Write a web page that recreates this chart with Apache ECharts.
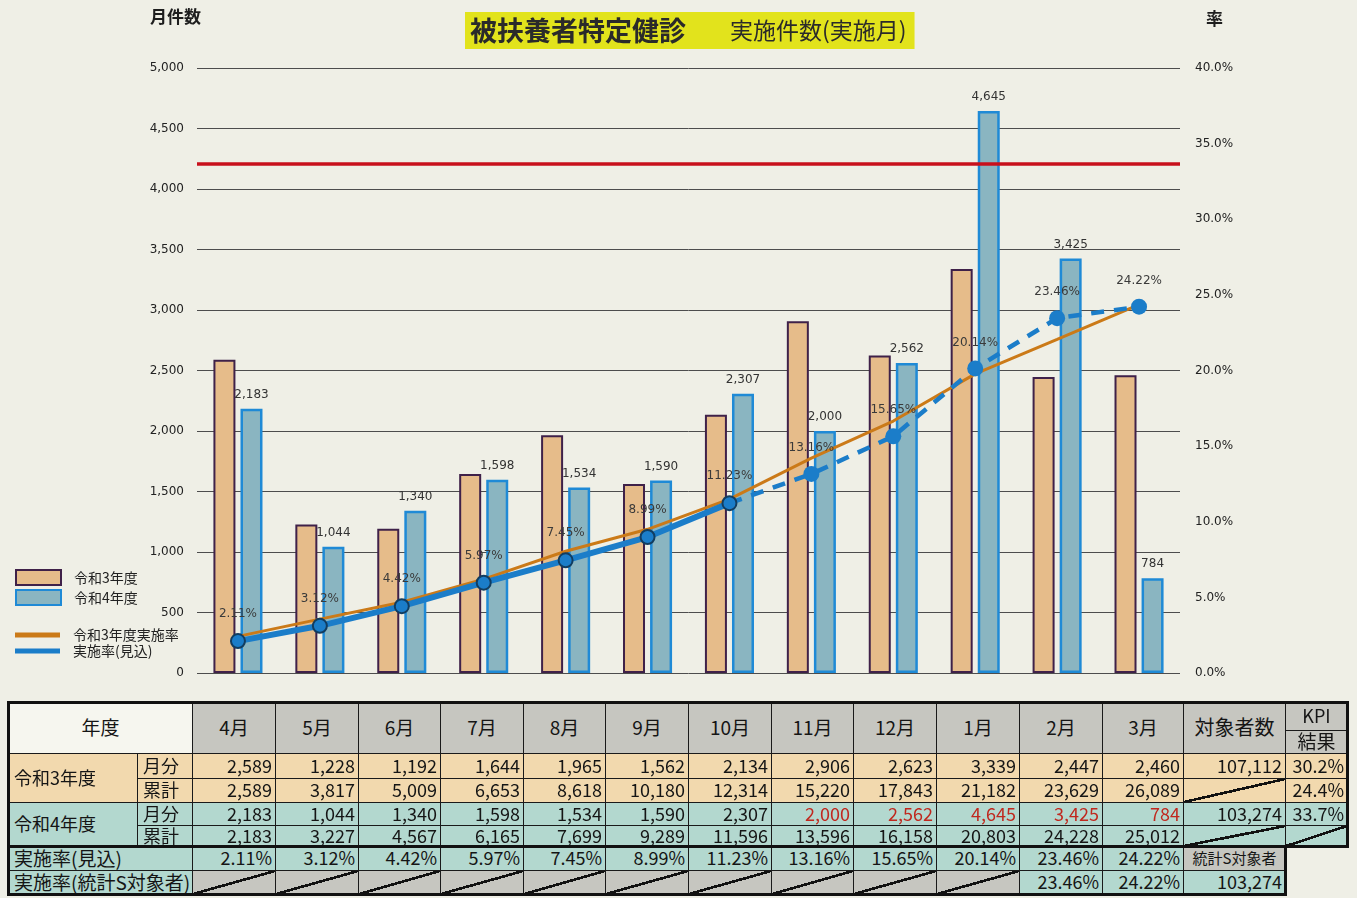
<!DOCTYPE html>
<html>
<head>
<meta charset="utf-8">
<script src="https://cdn.jsdelivr.net/npm/echarts/dist/echarts.min.js"></script>
<style>
  html, body { margin:0; padding:0; background:#efefe6; }
  #wrap { position:relative; width:1357px; height:898px; overflow:hidden; background:#efefe6; }
  #chart { position:absolute; left:0; top:0; width:1357px; height:898px; }
  #table { position:absolute; left:0; top:0; width:1357px; height:898px; pointer-events:none; }
  .cell { position:absolute; box-sizing:border-box; border:1px solid #1a1a1a; display:block;
          font-family:"Noto Sans CJK JP", sans-serif; color:#151515; white-space:nowrap; overflow:hidden; }
  .cell span { position:relative; top:-1px; }
  .frame { position:absolute; box-sizing:border-box; border:3px solid #111; }
</style>
</head>
<body>
<div id="wrap">
  <div id="chart"></div>
  <div id="table"></div>
</div>
<script>
// ---------------- data ----------------
const months = ['4月','5月','6月','7月','8月','9月','10月','11月','12月','1月','2月','3月'];
const r3Monthly    = [2589,1228,1192,1644,1965,1562,2134,2906,2623,3339,2447,2460];
const r3Cumulative = [2589,3817,5009,6653,8618,10180,12314,15220,17843,21182,23629,26089];
const r4Monthly    = [2183,1044,1340,1598,1534,1590,2307,2000,2562,4645,3425,784];
const r4Cumulative = [2183,3227,4567,6165,7699,9289,11596,13596,16158,20803,24228,25012];
// 実施率(見込) (%), solid part is months 4月-10月, dashed part from 10月 onwards
const rateForecast = [2.11,3.12,4.42,5.97,7.45,8.99,11.23,13.16,15.65,20.14,23.46,24.22];
// 令和3年度実施率 (%)
const r3Rate = [2.42,3.56,4.68,6.21,8.05,9.50,11.50,14.21,16.66,19.78,22.06,24.36];
// 実施率(統計S対象者) (%)
const rateStatS = [null,null,null,null,null,null,null,null,null,null,23.46,24.22];
const actualMonths = 7;            // 4月..10月 are actual, later months are estimates
const targetCounts = [107112, 103274];   // 対象者数 R3, R4
const statSTarget = 103274;
const kpiResults = ['30.2%','24.4%','33.7%'];
const kpiLine = 33.7;              // red KPI line (%)
const leftTicks = {min:0, max:5000, interval:500};
const rightTicks = {min:0, max:40, interval:5};

// ---------------- chart ----------------
const fmt = v => Number(v).toLocaleString('en-US');
const solidData = rateForecast.map((v,i) => i < actualMonths ? v : null);
const dashedData = rateForecast.map((v,i) => {
  if (i < actualMonths - 1) return null;
  if (i === actualMonths - 1) return {value:v, symbol:'none', label:{show:false}};
  return v;
});
const numFont = 'DejaVu Sans';
const chart = echarts.init(document.getElementById('chart'), null, {renderer:'canvas'});
chart.setOption({
  backgroundColor:'#efefe6',
  animation:false,
  textStyle:{fontFamily:'"Noto Sans CJK JP", sans-serif'},
  title:{
    text:'{a|被扶養者特定健診}{b|実施件数(実施月)}',
    left:465, top:11,
    backgroundColor:'#e2e31c',
    padding:[5,8,5,5],
    textStyle:{
      fontWeight:'normal',
      rich:{
        a:{fontSize:27, fontWeight:'bold', color:'#2a2a2a', fontFamily:'"Noto Sans CJK JP"', lineHeight:29},
        b:{fontSize:23, fontWeight:'normal', color:'#2a2a2a', fontFamily:'"Noto Sans CJK JP"', padding:[0,0,0,44], lineHeight:29}
      }
    }
  },
  graphic:[
    {type:'text', left:150, top:8, style:{text:'月件数', font:'bold 17px "Noto Sans CJK JP"', fill:'#1e1e1e'}},
    {type:'text', left:1206, top:10, style:{text:'率', font:'bold 17px "Noto Sans CJK JP"', fill:'#1e1e1e'}}
  ],
  legend:[
    {data:['令和3年度','令和4年度'], orient:'vertical', left:10, top:564, icon:'rect',
     itemWidth:45, itemHeight:15, itemGap:3,
     textStyle:{fontSize:14, color:'#222', padding:[0,0,0,8]}},
    {data:['令和3年度実施率','実施率(見込)'], orient:'vertical', left:10, top:623, icon:'rect',
     itemWidth:45, itemHeight:5, itemGap:2, itemStyle:{borderWidth:0},
     textStyle:{fontSize:14, color:'#222', padding:[0,0,0,8]}}
  ],
  grid:{left:197, right:177, top:68, bottom:225},
  xAxis:{type:'category', data:months, axisLine:{show:false}, axisTick:{show:false}, axisLabel:{show:false}},
  yAxis:[
    {type:'value', min:leftTicks.min, max:leftTicks.max, interval:leftTicks.interval,
     axisLine:{show:false}, axisTick:{show:false},
     axisLabel:{formatter:v=>fmt(v), fontSize:12, color:'#222', margin:13, fontFamily:numFont},
     splitLine:{lineStyle:{color:'#4d4d4d', width:1}}},
    {type:'value', position:'right', min:rightTicks.min, max:rightTicks.max, interval:rightTicks.interval,
     axisLine:{show:false}, axisTick:{show:false}, splitLine:{show:false},
     axisLabel:{formatter:v=>v.toFixed(1)+'%', fontSize:12, color:'#222', margin:15, fontFamily:numFont}}
  ],
  series:[
    {name:'令和3年度', type:'bar', data:r3Monthly, barWidth:22, barGap:'23%',
     itemStyle:{color:'#e6bc8a', borderColor:'#3f2149', borderWidth:2}, z:2},
    {name:'令和4年度', type:'bar', data:r4Monthly, barWidth:22,
     itemStyle:{color:'#8ab5c1', borderColor:'#1f8ad6', borderWidth:2.5}, z:2,
     label:{show:true, position:'top', distance:8, formatter:p=>fmt(p.value), fontSize:12, color:'#333', fontFamily:numFont}},
    {name:'令和3年度実施率', type:'line', yAxisIndex:1, data:r3Rate, symbol:'none',
     lineStyle:{color:'#cb7a18', width:3}, itemStyle:{color:'#cb7a18'}, z:4,
     markLine:{silent:true, symbol:'none', label:{show:false},
       lineStyle:{color:'#c8101c', width:3.5, type:'solid'}, data:[{yAxis:kpiLine}]}},
    {name:'実施率(見込)', type:'line', yAxisIndex:1, data:solidData, symbol:'circle', symbolSize:14,
     lineStyle:{color:'#1b7dc9', width:6}, itemStyle:{color:'#1b7dc9', borderColor:'#123d60', borderWidth:2}, z:5,
     label:{show:true, position:'top', distance:13, formatter:p=>p.value.toFixed(2)+'%', fontSize:12, color:'#3a3a3a', fontFamily:numFont}},
    {name:'実施率(見込)', type:'line', yAxisIndex:1, data:dashedData, symbol:'circle', symbolSize:16,
     lineStyle:{color:'#1b7dc9', width:4.5, type:[13,10]}, itemStyle:{color:'#1b7dc9'}, z:5,
     label:{show:true, position:'top', distance:12, formatter:p=>Number(p.value).toFixed(2)+'%', fontSize:12, color:'#3a3a3a', fontFamily:numFont}}
  ]
});

// ---------------- table ----------------
const cols = [8,137,192,275,358,440,523,605,688,771,853,936,1019,1102,1183,1285,1347];
const rows = [702,753,778,802,825,846,870,894];
const C = {orange:'#f2d9ae', teal:'#b3d8cf', gray:'#c6c6c0', white:'#f6f6ef'};
const tbl = document.getElementById('table');
function cell(x0,x1,y0,y1,text,o){
  o = o || {};
  const d = document.createElement('div');
  d.className = 'cell';
  const h = y1-y0+1;
  d.style.left = x0+'px'; d.style.top = y0+'px';
  d.style.width = (x1-x0+1)+'px'; d.style.height = h+'px';
  d.style.lineHeight = (h-2)+'px';
  let bg = o.bg || C.white;
  if (o.diag) {
    bg = 'linear-gradient(to bottom right, transparent calc(50% - 1.3px), #111 calc(50% - 1.3px), #111 calc(50% + 1.3px), transparent calc(50% + 1.3px)), ' + bg;
  }
  d.style.background = bg;
  d.style.fontSize = (o.size || 18)+'px';
  d.style.textAlign = o.align === 'left' ? 'left' : (o.align === 'center' ? 'center' : 'right');
  d.style.padding = o.align === 'left' ? '0 0 0 5px' : (o.align === 'center' ? '0' : '0 3px 0 0');
  if (o.color) d.style.color = o.color;
  const s = document.createElement('span');
  s.textContent = text || '';
  d.appendChild(s);
  tbl.appendChild(d);
}
function frame(x0,x1,y0,y1){
  const d = document.createElement('div');
  d.className = 'frame';
  d.style.left = (x0-1)+'px'; d.style.top = (y0-1)+'px';
  d.style.width = (x1-x0+3)+'px'; d.style.height = (y1-y0+3)+'px';
  tbl.appendChild(d);
}
// header
cell(cols[0],cols[2],rows[0],rows[1],'年度',{bg:C.white,align:'center',size:19});
months.forEach((m,i)=>cell(cols[2+i],cols[3+i],rows[0],rows[1],m,{bg:C.gray,align:'center',size:19}));
cell(cols[14],cols[15],rows[0],rows[1],'対象者数',{bg:C.gray,align:'center',size:20});
cell(cols[15],cols[16],rows[0],730,'KPI',{bg:C.gray,align:'center',size:18});
cell(cols[15],cols[16],730,rows[1],'結果',{bg:C.gray,align:'center',size:19});
// 令和3年度
cell(cols[0],cols[1],rows[1],rows[3],'令和3年度',{bg:C.orange,align:'left',size:18});
cell(cols[1],cols[2],rows[1],rows[2],'月分',{bg:C.orange,align:'left',size:18});
cell(cols[1],cols[2],rows[2],rows[3],'累計',{bg:C.orange,align:'left',size:18});
r3Monthly.forEach((v,i)=>cell(cols[2+i],cols[3+i],rows[1],rows[2],fmt(v),{bg:C.orange}));
r3Cumulative.forEach((v,i)=>cell(cols[2+i],cols[3+i],rows[2],rows[3],fmt(v),{bg:C.orange}));
cell(cols[14],cols[15],rows[1],rows[2],fmt(targetCounts[0]),{bg:C.orange});
cell(cols[14],cols[15],rows[2],rows[3],'',{bg:C.orange,diag:true});
cell(cols[15],cols[16],rows[1],rows[2],kpiResults[0],{bg:C.orange});
cell(cols[15],cols[16],rows[2],rows[3],kpiResults[1],{bg:C.orange});
// 令和4年度
cell(cols[0],cols[1],rows[3],rows[5],'令和4年度',{bg:C.teal,align:'left',size:18});
cell(cols[1],cols[2],rows[3],rows[4],'月分',{bg:C.teal,align:'left',size:18});
cell(cols[1],cols[2],rows[4],rows[5],'累計',{bg:C.teal,align:'left',size:18});
r4Monthly.forEach((v,i)=>cell(cols[2+i],cols[3+i],rows[3],rows[4],fmt(v),{bg:C.teal,color:i>=actualMonths?'#c0281e':null}));
r4Cumulative.forEach((v,i)=>cell(cols[2+i],cols[3+i],rows[4],rows[5],fmt(v),{bg:C.teal}));
cell(cols[14],cols[15],rows[3],rows[4],fmt(targetCounts[1]),{bg:C.teal});
cell(cols[14],cols[15],rows[4],rows[5],'',{bg:C.teal,diag:true});
cell(cols[15],cols[16],rows[3],rows[4],kpiResults[2],{bg:C.teal});
cell(cols[15],cols[16],rows[4],rows[5],'',{bg:C.teal,diag:true});
// 実施率(見込)
cell(cols[0],cols[2],rows[5],rows[6],'実施率(見込)',{bg:C.teal,align:'left',size:19});
rateForecast.forEach((v,i)=>cell(cols[2+i],cols[3+i],rows[5],rows[6],v.toFixed(2)+'%',{bg:C.teal}));
cell(cols[14],cols[15],rows[5],rows[6],'統計S対象者',{bg:C.gray,align:'center',size:15});
// 実施率(統計S対象者)
cell(cols[0],cols[2],rows[6],rows[7],'実施率(統計S対象者)',{bg:C.teal,align:'left',size:19});
rateStatS.forEach((v,i)=>{
  if (v === null) cell(cols[2+i],cols[3+i],rows[6],rows[7],'',{bg:C.gray,diag:true});
  else cell(cols[2+i],cols[3+i],rows[6],rows[7],v.toFixed(2)+'%',{bg:C.teal});
});
cell(cols[14],cols[15],rows[6],rows[7],fmt(statSTarget),{bg:C.teal});
// thick frames
frame(cols[0],cols[16],rows[0],rows[5]);
frame(cols[0],cols[15],rows[5],rows[7]);
</script>
</body>
</html>
